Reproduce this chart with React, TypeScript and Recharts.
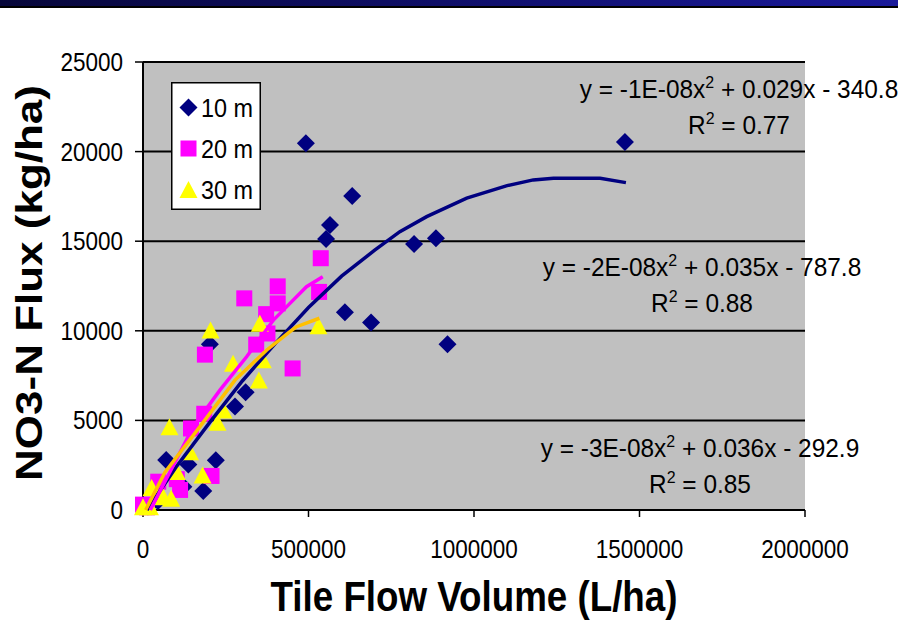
import React from 'react';
import { ScatterChart, Scatter, XAxis, YAxis, CartesianGrid, Legend, Label } from 'recharts';

const FONT = "'Liberation Sans', Arial, Helvetica, sans-serif";

// ---- categories / series ----
const seriesNames = ['10 m', '20 m', '30 m'];
const markerColors = ['#000080', '#FF00FF', '#FFFF00'];
const trendColors = ['#000080', '#FF00FF', '#FFC000'];

// ---- tick labels ----
const xTicks = [0, 500000, 1000000, 1500000, 2000000];
const yTicks = [0, 5000, 10000, 15000, 20000, 25000];

// ---- 10 m observations ----
const flow10 = [492000, 1456000, 632000, 565000, 553000, 819000, 885000, 610000, 689000, 920000, 202000, 310000, 278000, 70000, 137000, 220000, 182000, 122000, 45000, 15000];
const flux10 = [20460, 20540, 17520, 15900, 15120, 14840, 15160, 11030, 10470, 9250, 9250, 6570, 5770, 2790, 2540, 2770, 1060, 1300, 500, 200];

// ---- 20 m observations ----
const flow20 = [537000, 407000, 407000, 532000, 306000, 372000, 376000, 342000, 187000, 452000, 185000, 145000, 207000, 102000, 112000, 46000, 0, 12000];
const flux20 = [14050, 12480, 11530, 12170, 11810, 10930, 9850, 9230, 8670, 7900, 5370, 4550, 1900, 1720, 1120, 1580, 300, 150];

// ---- 30 m observations ----
const flow30 = [204000, 353000, 530000, 272000, 362000, 350000, 80000, 243000, 225000, 142000, 102000, 180000, 26000, 61000, 85000, 0, 21000];
const flux30 = [10040, 10420, 10280, 8190, 8390, 7250, 4650, 5580, 4900, 3250, 2150, 1950, 1250, 740, 650, 180, 180];

// ---- trend lines ----
const trendFlow10 = [12000, 100000, 200000, 300000, 400000, 500000, 600000, 700000, 776000, 857000, 978000, 1100000, 1179000, 1240000, 1381000, 1459000];
const trendFlux10 = [0, 2400, 4850, 7200, 9300, 11300, 13050, 14500, 15530, 16370, 17400, 18100, 18420, 18510, 18510, 18270];
const trendFlow20 = [22000, 152000, 233000, 313000, 394000, 444000, 494000, 543000];
const trendFlux20 = [0, 4650, 6700, 8550, 10600, 11530, 12460, 13020];
const trendFlow30 = [8000, 66000, 172000, 278000, 374000, 444000, 464000, 533000];
const trendFlux30 = [0, 2100, 4650, 7250, 8930, 9950, 10230, 10700];

// ---- trend equations ----
const eqA = ['-1E-08', '-2E-08', '-3E-08'];
const eqB = ['0.029', '0.035', '0.036'];
const eqC = ['340.8', '787.8', '292.9'];
const eqR2 = ['0.77', '0.88', '0.85'];

const toPoints = (xs: number[], ys: number[]) => xs.map((x, i) => ({ x, y: ys[i] }));

const obs = [toPoints(flow10, flux10), toPoints(flow20, flux20), toPoints(flow30, flux30)];
const trends = [toPoints(trendFlow10, trendFlux10), toPoints(trendFlow20, trendFlux20), toPoints(trendFlow30, trendFlux30)];

function drawMarker(kind: number, cx: number, cy: number, key?: any) {
  const c = markerColors[kind];
  if (kind === 0) {
    const r = 9;
    return <polygon key={key} points={`${cx},${cy - r} ${cx + r},${cy} ${cx},${cy + r} ${cx - r},${cy}`} fill={c} />;
  }
  if (kind === 1) {
    return <rect key={key} x={cx - 8} y={cy - 8} width={16} height={16} fill={c} />;
  }
  return <polygon key={key} points={`${cx},${cy - 8.5} ${cx + 9},${cy + 8.5} ${cx - 9},${cy + 8.5}`} fill={c} />;
}

const markerShape = (kind: number) => (props: any) => {
  const { cx, cy } = props;
  if (cx == null || cy == null) return <g />;
  return drawMarker(kind, cx, cy);
};

const noShape = () => <g />;

const XTick = (props: any) => {
  const { x, y, payload } = props;
  return (
    <g transform={`translate(${x},${y})`}>
      <text transform="scale(0.9,1)" textAnchor="middle" dy="0.72em" fontSize={25} fontFamily={FONT} fill="#000">
        {String(payload.value)}
      </text>
    </g>
  );
};

const YTick = (props: any) => {
  const { x, y, payload } = props;
  return (
    <g transform={`translate(${x},${y})`}>
      <text transform="scale(0.9,1)" textAnchor="end" dy="0.36em" fontSize={25} fontFamily={FONT} fill="#000">
        {String(payload.value)}
      </text>
    </g>
  );
};

const XTitle = (props: any) => {
  const vb = props.viewBox || { x: 143, y: 510, width: 662, height: 40 };
  const cx = vb.x + vb.width / 2;
  return (
    <g transform={`translate(${cx},${vb.y + 86}) scale(0.875,1)`}>
      <text textAnchor="middle" dy="0.36em" fontSize={42} fontWeight="bold" fontFamily={FONT} fill="#000">
        Tile Flow Volume (L/ha)
      </text>
    </g>
  );
};

const YTitle = (props: any) => {
  const vb = props.viewBox || { x: 83, y: 62, width: 60, height: 448 };
  const cx = vb.x - 54;
  const cy = vb.y + vb.height / 2 - 3;
  return (
    <g transform={`translate(${cx},${cy}) rotate(-90) scale(1,0.83)`}>
      <text textAnchor="middle" dy="0.36em" fontSize={44} fontWeight="bold" fontFamily={FONT} fill="#000">
        NO3-N Flux (kg/ha)
      </text>
    </g>
  );
};

const LegendContent = () => (
  <svg width={90} height={128} style={{ display: 'block' }}>
    <rect x={0.75} y={0.75} width={88.5} height={126.5} fill="#fff" stroke="#000" strokeWidth={1.5} />
    {seriesNames.map((n, i) => (
      <g key={n}>
        {drawMarker(i, 17.5, 25.5 + i * 41)}
        <g transform={`translate(30,${25.5 + i * 41}) scale(0.9,1)`}>
          <text dy="0.36em" fontSize={26} fontFamily={FONT} fill="#000">{n}</text>
        </g>
      </g>
    ))}
  </svg>
);

const eqPos = [[739, 89], [702, 267], [700, 448]];

export default function App() {
  return (
    <div style={{ position: 'absolute', left: 0, top: 0, width: 898, height: 630, background: '#fff' }}>
      <ScatterChart width={898} height={630} margin={{ top: 62, right: 93, bottom: 80, left: 83 }}>
        <CartesianGrid vertical={false} fill="#C0C0C0" fillOpacity={1} stroke="#000" strokeWidth={2} />
        <XAxis
          type="number"
          dataKey="x"
          domain={[0, 2000000]}
          ticks={xTicks}
          interval={0}
          height={40}
          tickSize={7}
          tickMargin={23}
          tick={<XTick />}
          axisLine={{ stroke: '#000', strokeWidth: 2 }}
          tickLine={{ stroke: '#000', strokeWidth: 1.5 }}
        >
          <Label content={<XTitle />} />
        </XAxis>
        <YAxis
          type="number"
          dataKey="y"
          domain={[0, 25000]}
          ticks={yTicks}
          interval={0}
          width={60}
          tickSize={8}
          tickMargin={12}
          tick={<YTick />}
          axisLine={{ stroke: '#000', strokeWidth: 2 }}
          tickLine={{ stroke: '#000', strokeWidth: 1.5 }}
        >
          <Label content={<YTitle />} />
        </YAxis>
        <Legend
          content={<LegendContent />}
          layout="vertical"
          align="center"
          verticalAlign="middle"
          wrapperStyle={{ position: 'absolute', left: 171, top: 82, width: 90, height: 128 }}
        />
        {obs.map((d, i) => (
          <Scatter
            key={'obs' + i}
            name={seriesNames[i]}
            data={d}
            fill={markerColors[i]}
            shape={markerShape(i)}
            isAnimationActive={false}
          />
        ))}
        {trends.map((d, i) => (
          <Scatter
            key={'trend' + i}
            name={'trend ' + seriesNames[i]}
            data={d}
            line={{ stroke: trendColors[i], strokeWidth: 3.5 }}
            lineType="joint"
            shape={noShape}
            legendType="none"
            isAnimationActive={false}
          />
        ))}
      </ScatterChart>
      <svg width={898} height={630} style={{ position: 'absolute', left: 0, top: 0, pointerEvents: 'none' }}>
        {eqA.map((a, i) => (
          <g key={i}>
            <g transform={`translate(${eqPos[i][0]},${eqPos[i][1]}) scale(0.94,1)`}>
              <text textAnchor="middle" dy="0.36em" fontSize={26} fontFamily={FONT} fill="#000" style={{ whiteSpace: 'pre' }}>
                <tspan>{`y = ${a}x`}</tspan>
                <tspan dy={-10} fontSize={17}>2</tspan>
                <tspan dy={10}>{` + ${eqB[i]}x - ${eqC[i]}`}</tspan>
              </text>
            </g>
            <g transform={`translate(${eqPos[i][0]},${eqPos[i][1] + 36}) scale(0.94,1)`}>
              <text textAnchor="middle" dy="0.36em" fontSize={26} fontFamily={FONT} fill="#000" style={{ whiteSpace: 'pre' }}>
                <tspan>R</tspan>
                <tspan dy={-10} fontSize={17}>2</tspan>
                <tspan dy={10}>{` = ${eqR2[i]}`}</tspan>
              </text>
            </g>
          </g>
        ))}
      </svg>
      <div
        style={{
          position: 'absolute',
          left: 0,
          top: 0,
          width: 898,
          height: 6,
          background: 'linear-gradient(90deg, #07073a 0%, #10106e 55%, #1a1a9a 100%)',
          borderBottom: '2px solid #000',
        }}
      />
    </div>
  );
}
